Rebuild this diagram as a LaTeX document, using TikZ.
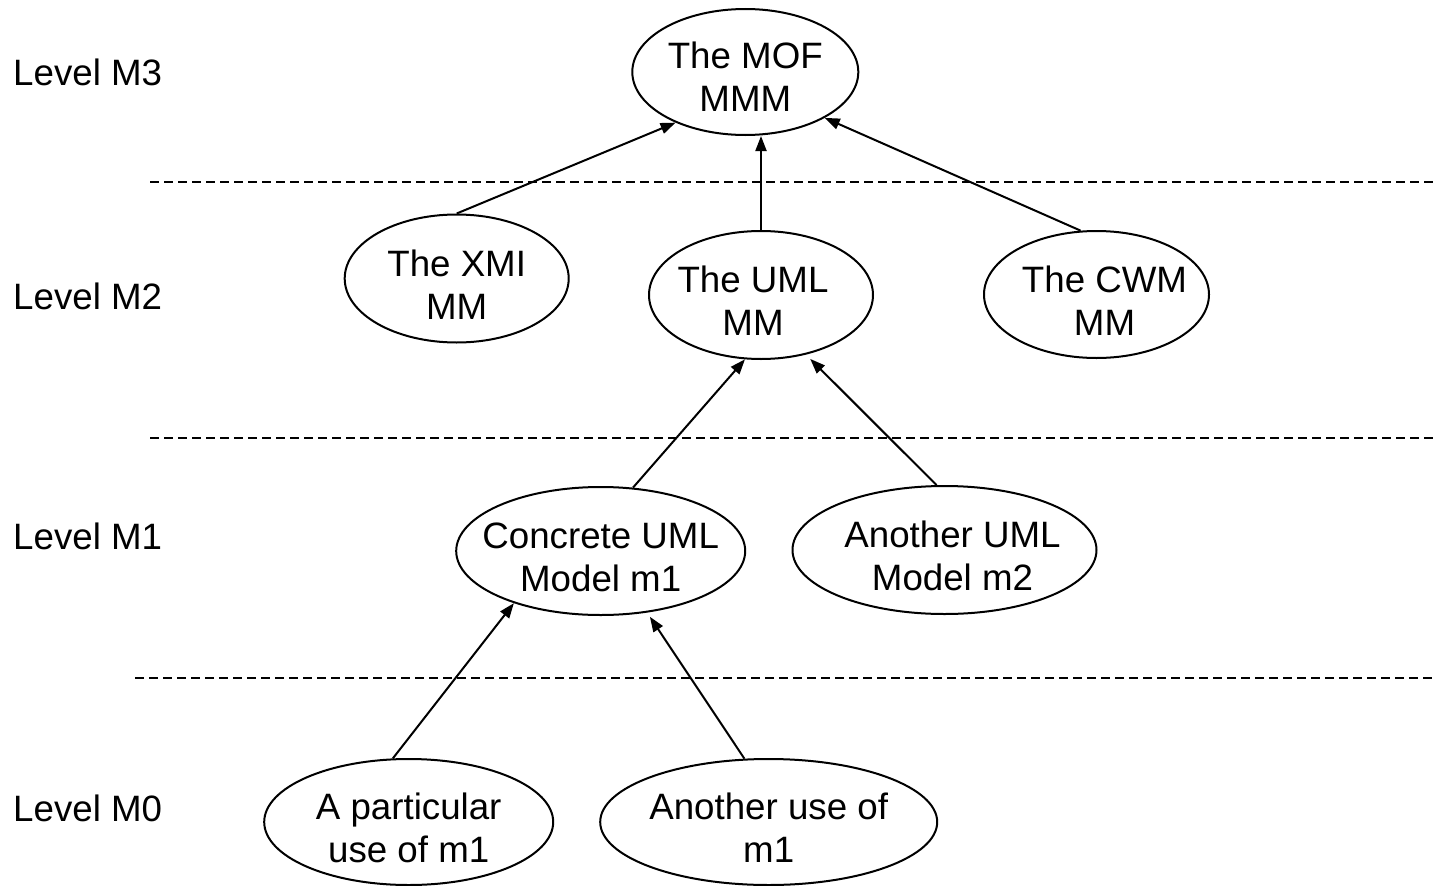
\documentclass[tikz,border=0pt]{standalone}
\usepackage{fontspec}
\setmainfont{Liberation Sans}
\usetikzlibrary{shapes.geometric,arrows.meta}
\begin{document}
\begin{tikzpicture}[x=1pt,y=-1pt,
  ell/.style 2 args={draw, ellipse, line width=2pt, inner sep=0pt, minimum width=#1pt, minimum height=#2pt},
  txt/.style={align=center, font=\fontsize{36.7}{43}\selectfont, inner sep=0pt, yshift=-6pt},
  lvl/.style={anchor=base west, font=\fontsize{36.7}{43}\selectfont, inner sep=0pt},
  arr/.style={line width=2pt, -{Triangle[length=15pt,width=11pt]}},
  sep/.style={line width=1.8pt, dash pattern=on 9pt off 5pt}]
\fill[white] (0,0) rectangle (1433,886);
\useasboundingbox (0,0) rectangle (1433,886);

% level labels
\node[lvl] (l3) at (13,85) {Level M3};
\node[lvl] (l2) at (13,309) {Level M2};
\node[lvl] (l1) at (13,549) {Level M1};
\node[lvl] (l0) at (13,821) {Level M0};

% separators
\draw[sep] (150,182) -- (1433,182);
\draw[sep] (150,438) -- (1433,438);
\draw[sep] (135,678) -- (1433,678);

% ellipses
\node[ell={226}{126}, label={[txt,yshift=1pt]center:The MOF\\MMM}] (mof) at (745.3,72) {};
\node[ell={224}{128}, label={[txt]center:The XMI\\MM}] (xmi) at (456.7,278.5) {};
\node[ell={224}{128}, label={[txt,xshift=-8pt]center:The UML\\MM}] (uml) at (761,295) {};
\node[ell={225}{127}, label={[txt,xshift=8pt]center:The CWM\\MM}] (cwm) at (1096.5,294.5) {};
\node[ell={289}{128}, label={[txt]center:Concrete UML\\Model m1}] (conc) at (600.7,551) {};
\node[ell={304}{128}, label={[txt,xshift=8pt]center:Another UML\\Model m2}] (anoth) at (944.5,550) {};
\node[ell={289}{126}, label={[txt]center:A particular\\use of m1}] (part) at (408.7,822) {};
\node[ell={337}{126}, label={[txt]center:Another use of\\m1}] (use) at (768.7,822) {};

% connectors
\draw[arr] (xmi.north) -- (mof.216);
\draw[arr] (uml.north) -- (uml.north |- mof.south);
\draw[arr] (cwm.104) -- (mof.330);
\draw[arr] (conc.63) -- (uml.256);
\draw[arr, shorten >=6pt] (anoth.97) -- (uml.307);
\draw[arr] (part.104) -- (conc.211);
\draw[arr, shorten >=5pt] (use.111) -- (conc.307);
\end{tikzpicture}
\end{document}
